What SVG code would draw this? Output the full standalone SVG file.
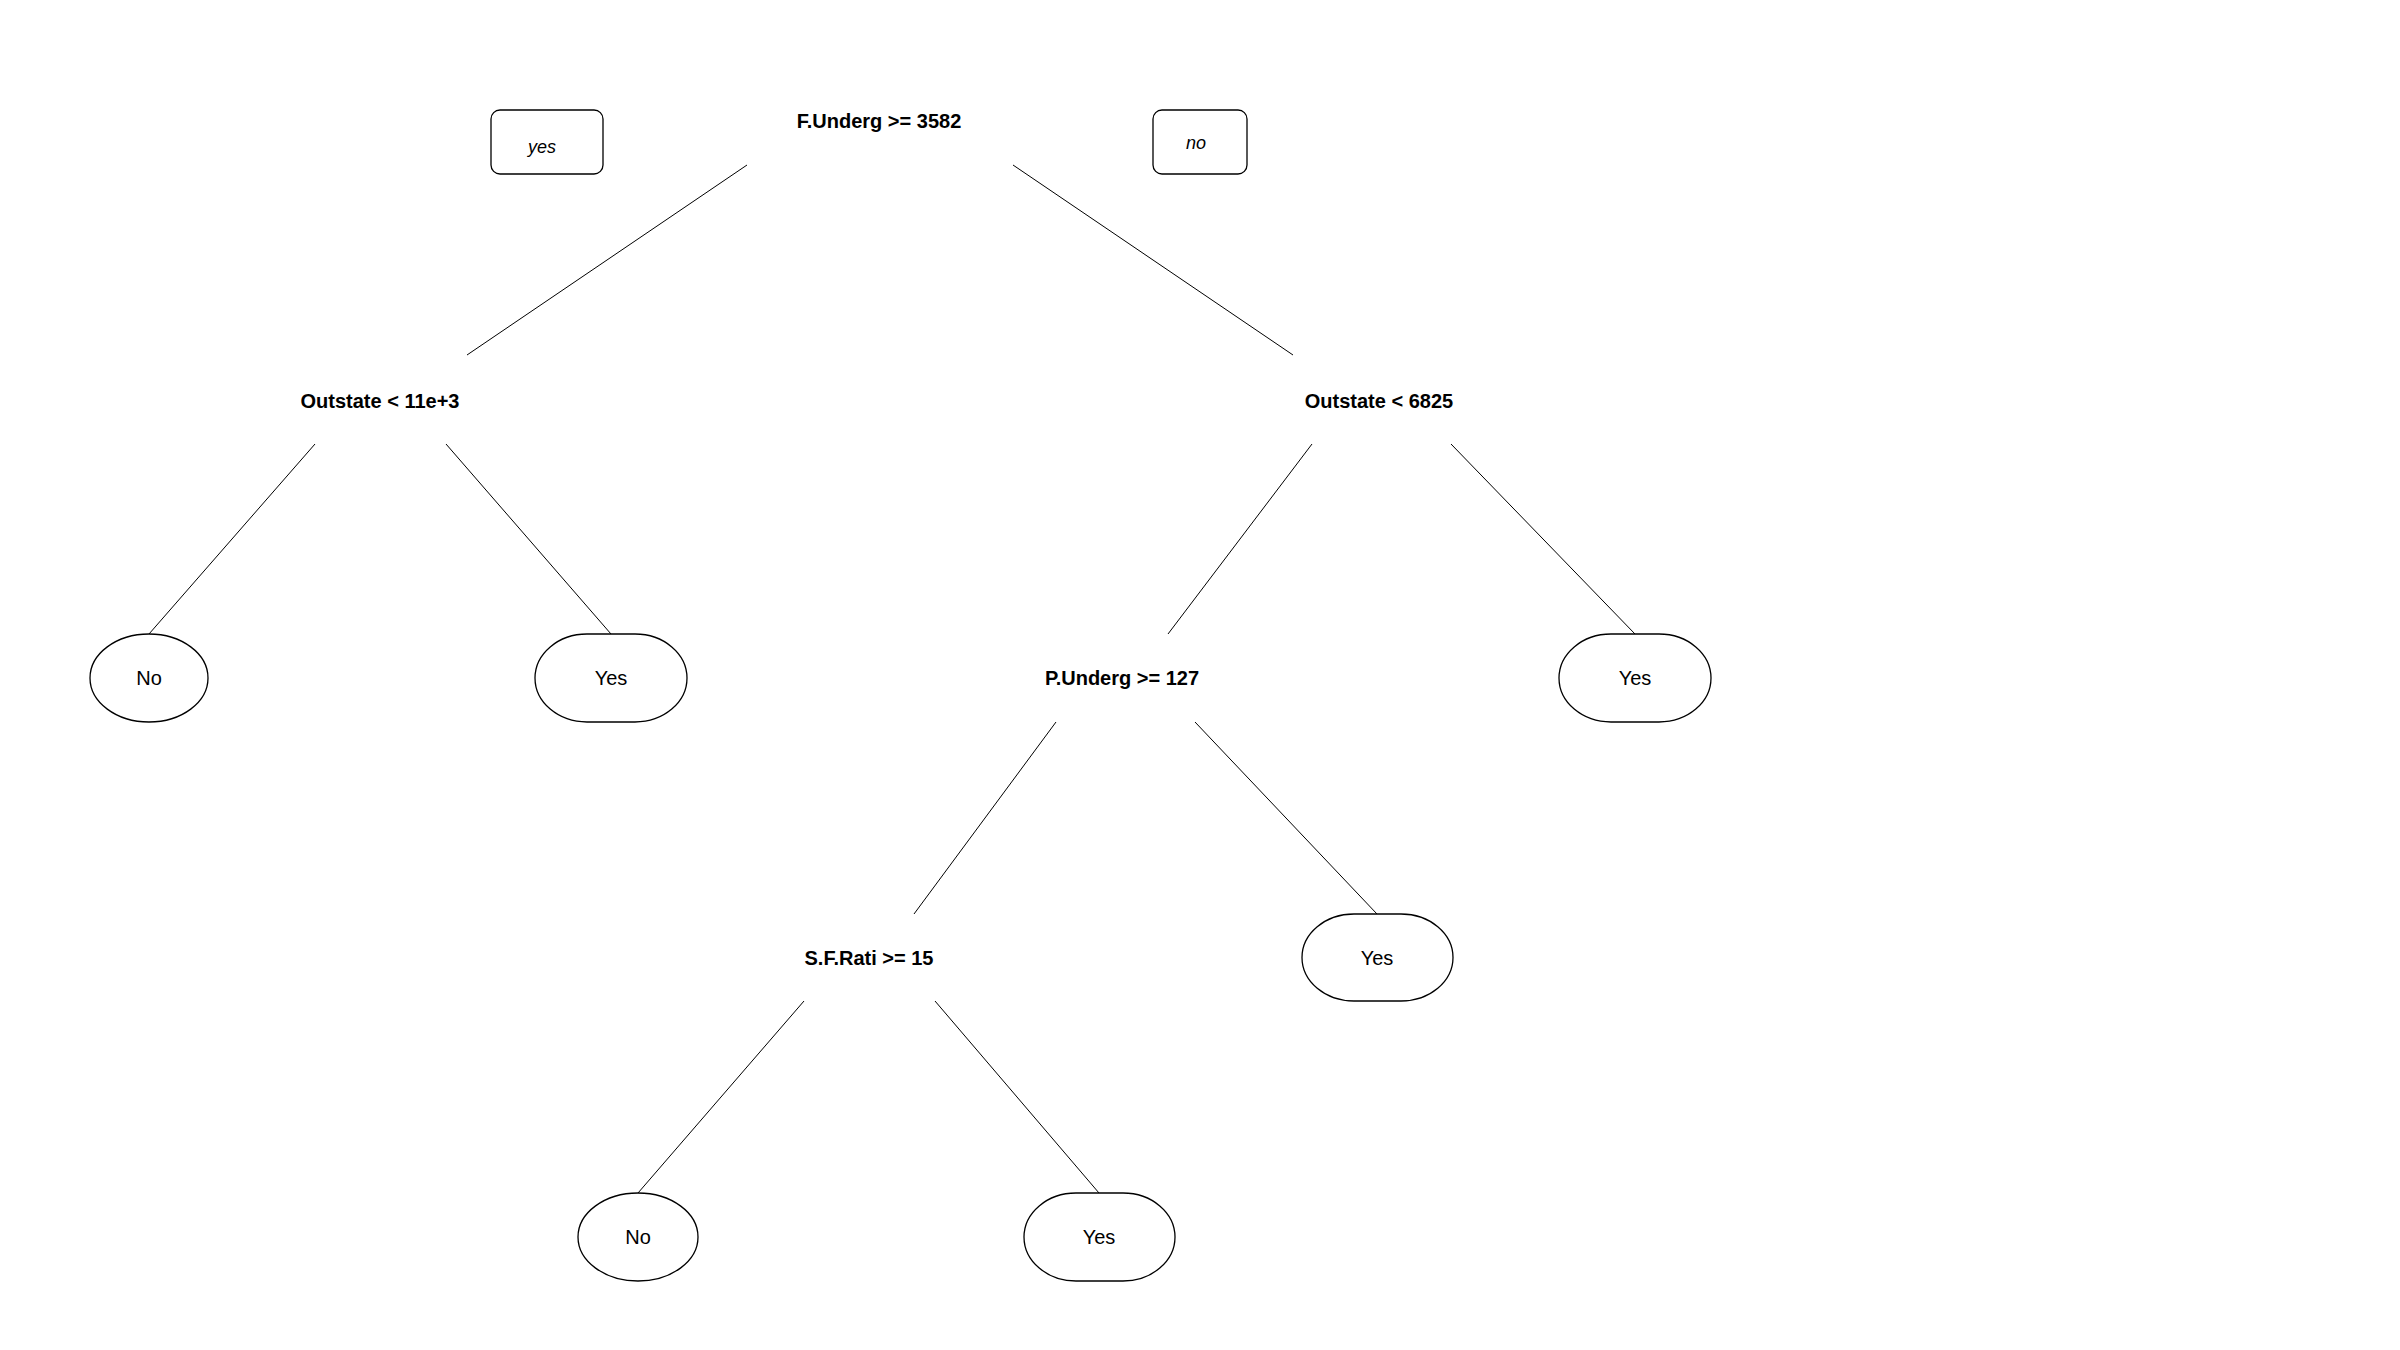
<svg xmlns="http://www.w3.org/2000/svg" width="2400" height="1350" viewBox="0 0 2400 1350">
<style>
.split{font-family:"Liberation Sans",Arial,sans-serif;font-size:20px;font-weight:bold;fill:#000;text-anchor:middle}
.leaf{font-family:"Liberation Sans",Arial,sans-serif;font-size:20px;fill:#000;text-anchor:middle}
.lbl{font-family:"Liberation Sans",Arial,sans-serif;font-size:18px;font-style:italic;fill:#000;text-anchor:middle}
.shape{fill:#fff;stroke:#000;stroke-width:1.3}
.edge{stroke:#000;stroke-width:1;fill:none}
</style>
<rect width="2400" height="1350" fill="#fff"/>
<g id="connectors">
<line class="edge" x1="747" y1="165" x2="467" y2="355"/>
<line class="edge" x1="1013" y1="165" x2="1293" y2="355"/>
<line class="edge" x1="315" y1="444" x2="149" y2="634"/>
<line class="edge" x1="446" y1="444" x2="611" y2="634"/>
<line class="edge" x1="1312" y1="444" x2="1168" y2="634"/>
<line class="edge" x1="1451" y1="444" x2="1635" y2="634"/>
<line class="edge" x1="1056" y1="722" x2="914" y2="914"/>
<line class="edge" x1="1195" y1="722" x2="1377" y2="914"/>
<line class="edge" x1="804" y1="1001" x2="638" y2="1193"/>
<line class="edge" x1="935" y1="1001" x2="1099" y2="1193"/>
</g>
<g id="label-yes">
<rect class="shape" x="491" y="110" width="112" height="64" rx="9" ry="9"/>
<text class="lbl" x="542" y="153">yes</text>
</g>
<g id="label-no">
<rect class="shape" x="1153" y="110" width="94" height="64" rx="9" ry="9"/>
<text class="lbl" x="1196" y="149">no</text>
</g>
<g id="n1"><text class="split" x="879" y="128">F.Underg &gt;= 3582</text></g>
<g id="n2"><text class="split" x="380" y="408">Outstate &lt; 11e+3</text></g>
<g id="n3"><text class="split" x="1379" y="408">Outstate &lt; 6825</text></g>
<g id="n4"><ellipse class="shape" cx="149" cy="678" rx="59" ry="44"/><text class="leaf" x="149" y="685">No</text></g>
<g id="n5"><rect class="shape" x="535" y="634" width="152" height="88" rx="52" ry="44"/><text class="leaf" x="611" y="685">Yes</text></g>
<g id="n6"><text class="split" x="1122" y="685">P.Underg &gt;= 127</text></g>
<g id="n7"><rect class="shape" x="1559" y="634" width="152" height="88" rx="52" ry="44"/><text class="leaf" x="1635" y="685">Yes</text></g>
<g id="n8"><text class="split" x="869" y="965">S.F.Rati &gt;= 15</text></g>
<g id="n9"><rect class="shape" x="1302" y="914" width="151" height="87" rx="52" ry="43.5"/><text class="leaf" x="1377" y="965">Yes</text></g>
<g id="n10"><ellipse class="shape" cx="638" cy="1237" rx="60" ry="44"/><text class="leaf" x="638" y="1244">No</text></g>
<g id="n11"><rect class="shape" x="1024" y="1193" width="151" height="88" rx="52" ry="44"/><text class="leaf" x="1099" y="1244">Yes</text></g>
</svg>
